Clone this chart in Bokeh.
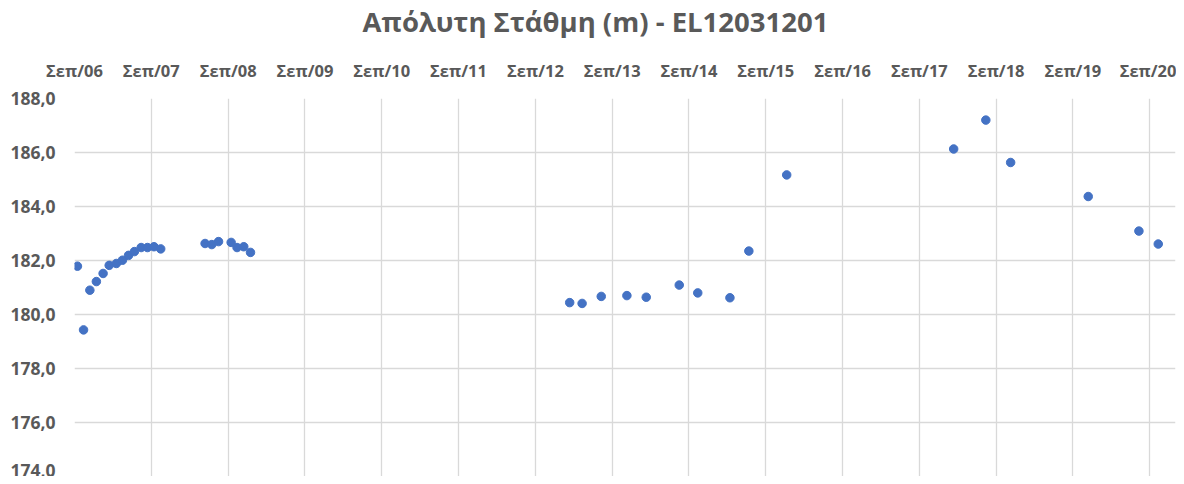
import pandas as pd
from bokeh.plotting import figure
from bokeh.layouts import column
from bokeh.models import ColumnDataSource, FixedTicker, Range1d, Label
from bokeh.embed import file_html
from bokeh.resources import INLINE

title_text = "Απόλυτη Στάθμη (m) - EL12031201"

dates = [
    "2006-09-15", "2006-10-14", "2006-11-13", "2006-12-14", "2007-01-15",
    "2007-02-13", "2007-03-19", "2007-04-17", "2007-05-16", "2007-06-13",
    "2007-07-15", "2007-08-14", "2007-09-14", "2007-10-16",
    "2008-05-14", "2008-06-15", "2008-07-17", "2008-09-15", "2008-10-13",
    "2008-11-14", "2008-12-16",
    "2013-02-11", "2013-04-11", "2013-07-11", "2013-11-10", "2014-02-10",
    "2014-07-17", "2014-10-13", "2015-03-15", "2015-06-13", "2015-12-10",
    "2018-02-11", "2018-07-14", "2018-11-09", "2019-11-13", "2020-07-11",
    "2020-10-11",
]
levels = [
    181.79, 179.43, 180.90, 181.22, 181.52,
    181.82, 181.89, 182.01, 182.19, 182.33,
    182.48, 182.48, 182.51, 182.43,
    182.63, 182.59, 182.70, 182.67, 182.48,
    182.51, 182.30,
    180.44, 180.41, 180.67, 180.70, 180.64,
    181.09, 180.80, 180.62, 182.35, 185.17,
    186.13, 187.20, 185.63, 184.37, 183.09,
    182.61,
]

x_tick_dates = [f"{y}-09-01" for y in range(2006, 2021)]
x_tick_labels = [f"Σεπ/{y % 100:02d}" for y in range(2006, 2021)]
y_ticks = [174, 176, 178, 180, 182, 184, 186, 188]
y_tick_labels = [f"{v:.1f}".replace(".", ",") for v in y_ticks]

x_start, x_end = "2006-09-01", "2021-01-01"


def ms(d):
    return pd.Timestamp(d).value // 10**6


src = ColumnDataSource(data=dict(x=[ms(d) for d in dates], y=levels))

W = 1176
TITLE_H = 48
H = 476 - TITLE_H
LEFT, TOP = 74, 98 - TITLE_H

# --- title strip (its frame is aligned with the chart frame by the column) ---
t = figure(
    width=W, height=TITLE_H, output_backend="svg", toolbar_location=None,
    x_axis_location=None, y_axis_location=None,
    x_range=Range1d(0, 1), y_range=Range1d(0, 1),
    min_border_left=0, min_border_right=0, min_border_top=0, min_border_bottom=0,
)
t.outline_line_color = None
t.grid.grid_line_color = None
t.background_fill_color = "white"
t.border_fill_color = "white"
t.add_layout(Label(
    x=595 - LEFT, y=TITLE_H - 21, x_units="screen", y_units="screen",
    text=title_text, text_align="center", text_baseline="middle",
    text_font="Open Sans", text_font_size="27.5px", text_font_style="bold",
    text_color="#595959",
))

# --- main chart --------------------------------------------------------
p = figure(
    width=W, height=H, output_backend="svg", toolbar_location=None,
    x_axis_type="datetime", x_axis_location="above",
    x_range=Range1d(ms(x_start), ms(x_end)), y_range=Range1d(174, 188),
    min_border_left=LEFT, min_border_right=1, min_border_bottom=0,
    min_border_top=TOP,
)

p.outline_line_color = None
p.background_fill_color = "white"
p.border_fill_color = "white"

xt = FixedTicker(ticks=[ms(d) for d in x_tick_dates])
p.xaxis.ticker = xt
p.xgrid.ticker = xt
p.xaxis.major_label_overrides = {ms(d): lab for d, lab in zip(x_tick_dates, x_tick_labels)}
yt = FixedTicker(ticks=y_ticks)
p.yaxis.ticker = yt
p.ygrid.ticker = yt
p.yaxis.major_label_overrides = {v: lab for v, lab in zip(y_ticks, y_tick_labels)}

for ax in (p.xaxis, p.yaxis):
    ax.axis_line_color = None
    ax.major_tick_line_color = None
    ax.minor_tick_line_color = None
    ax.major_tick_out = 0
    ax.major_tick_in = 0
    ax.minor_tick_out = 0
    ax.minor_tick_in = 0
    ax.major_label_text_font = "Open Sans"
    ax.major_label_text_font_style = "bold"
    ax.major_label_text_color = "#595959"

p.xaxis.major_label_text_font_size = "16.5px"
p.xaxis.major_label_standoff = 17
p.yaxis.major_label_text_font_size = "17.5px"
p.yaxis.major_label_standoff = 19

for g in (p.xgrid, p.ygrid):
    g.grid_line_color = "#d9d9d9"
    g.grid_line_width = 1.3

p.scatter("x", "y", source=src, size=8.5, color="#4472C4", line_color="#4472C4")

layout = column(t, p, spacing=0)
open("out.html", "w").write(file_html(layout, INLINE))
